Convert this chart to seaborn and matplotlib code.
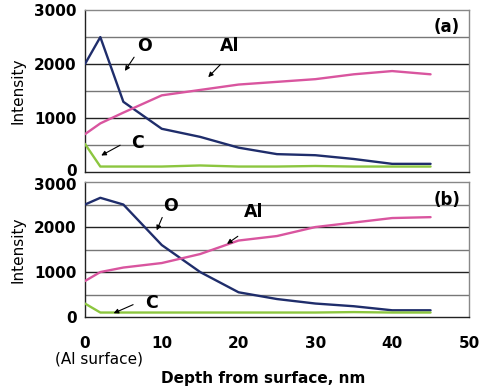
import matplotlib
matplotlib.use("Agg")
import matplotlib.pyplot as plt
import matplotlib.transforms as mtransforms
import seaborn as sns
import pandas as pd

sns.set_style("white")
plt.rcParams['font.family'] = ['DejaVu Sans']
plt.rcParams['text.color'] = 'black'
plt.rcParams['axes.labelcolor'] = 'black'
plt.rcParams['xtick.color'] = 'black'
plt.rcParams['ytick.color'] = 'black'

depth = [0, 2, 5, 10, 15, 20, 25, 30, 35, 40, 45]

a_O = [2000, 2500, 1300, 800, 650, 450, 330, 310, 240, 150, 150]
a_Al = [700, 900, 1100, 1420, 1520, 1620, 1670, 1720, 1810, 1870, 1810]
a_C = [520, 100, 100, 100, 120, 100, 100, 110, 100, 100, 100]

b_O = [2500, 2650, 2500, 1600, 1000, 550, 400, 300, 240, 150, 150]
b_Al = [800, 1000, 1100, 1200, 1400, 1700, 1800, 2000, 2100, 2200, 2220]
b_C = [300, 100, 100, 100, 100, 100, 100, 100, 110, 100, 100]

elements = ["O", "Al", "C"]
colors = {"O": "#1f2d6b", "Al": "#d9559f", "C": "#8cc63f"}

def long_df(O, Al, C):
    rows = []
    for name, vals in zip(elements, [O, Al, C]):
        for d, v in zip(depth, vals):
            rows.append({"depth": d, "intensity": v, "element": name})
    return pd.DataFrame(rows)

fig = plt.figure(figsize=(4.8, 3.89), dpi=100)
ax1 = fig.add_axes([0.177, 0.558, 0.8, 0.416])
ax2 = fig.add_axes([0.177, 0.185, 0.8, 0.347])

for ax, df in [(ax1, long_df(a_O, a_Al, a_C)), (ax2, long_df(b_O, b_Al, b_C))]:
    sns.lineplot(data=df, x="depth", y="intensity", hue="element", palette=colors,
                 ax=ax, legend=False, linewidth=1.7, zorder=3)
    ax.set_xlim(0, 50)
    ax.set_ylim(0, 3000)
    ax.set_yticks([0, 1000, 2000, 3000])
    ax.set_yticklabels(["0", "1000", "2000", "3000"], fontsize=11, fontweight="bold")
    for g in [500, 1000, 1500, 2000, 2500]:
        ax.axhline(g, color="#222222" if g % 1000 == 0 else "#777777", lw=1.0, zorder=1)
    ax.set_xticks([10, 20, 30, 40])
    ax.tick_params(axis="x", direction="inout", length=6, width=0.8, color="#222222")
    ax.tick_params(axis="y", length=0, pad=6)
    ax.set_ylabel("Intensity", fontsize=11)
    ax.yaxis.set_label_coords(-0.155, 0.5)
    for s in ax.spines.values():
        s.set_color("#222222")
        s.set_linewidth(1.0)
    ax.spines["right"].set_color("#888888")
    ax.spines["top"].set_color("#888888")

ax1.set_xlabel("")
ax1.set_xticklabels([])
ax2.set_xticks([0, 10, 20, 30, 40, 50])
ax2.set_xticklabels(["0", "10", "20", "30", "40", "50"], fontsize=11, fontweight="bold")
ax2.tick_params(axis="x", length=0, pad=14)
ax2.set_xlabel("")

# nudge the crowded labels between panels apart
up = mtransforms.ScaledTranslation(0, 2 / 100, fig.dpi_scale_trans)
down = mtransforms.ScaledTranslation(0, -2 / 100, fig.dpi_scale_trans)
fig.canvas.draw()
t0 = ax1.get_yticklabels()[0]
t0.set_transform(t0.get_transform() + up)
t3 = ax2.get_yticklabels()[-1]
t3.set_transform(t3.get_transform() + down)

arrow = dict(arrowstyle="-|>", color="black", lw=0.8, mutation_scale=7)
lbl = dict(fontsize=12.5, fontweight="bold", ha="center", va="center")

ax1.annotate("", xy=(5.0, 1830), xytext=(6.6, 2170), arrowprops=arrow)
ax1.text(7.8, 2330, "O", **lbl)
ax1.annotate("", xy=(15.8, 1720), xytext=(17.9, 2030), arrowprops=arrow)
ax1.text(18.8, 2330, "Al", **lbl)
ax1.annotate("", xy=(1.8, 280), xytext=(4.9, 520), arrowprops=arrow)
ax1.text(6.9, 530, "C", **lbl)
ax1.text(47.1, 2680, "(a)", fontsize=12, fontweight="bold", ha="center", va="center")

ax2.annotate("", xy=(9.2, 1870), xytext=(10.2, 2270), arrowprops=arrow)
ax2.text(11.1, 2470, "O", **lbl)
ax2.annotate("", xy=(18.2, 1590), xytext=(20.2, 1830), arrowprops=arrow)
ax2.text(22.0, 2330, "Al", **lbl)
ax2.annotate("", xy=(3.4, 60), xytext=(6.6, 300), arrowprops=arrow)
ax2.text(8.6, 310, "C", **lbl)
ax2.text(47.1, 2600, "(b)", fontsize=12, fontweight="bold", ha="center", va="center")

fig.text(99 / 480, 1 - 359 / 389, "(Al surface)", fontsize=11, ha="center", va="center")
fig.text(263 / 480, 1 - 379 / 389, "Depth from surface, nm", fontsize=11,
         fontweight="bold", ha="center", va="center")

fig.savefig("out.png", dpi=100)
